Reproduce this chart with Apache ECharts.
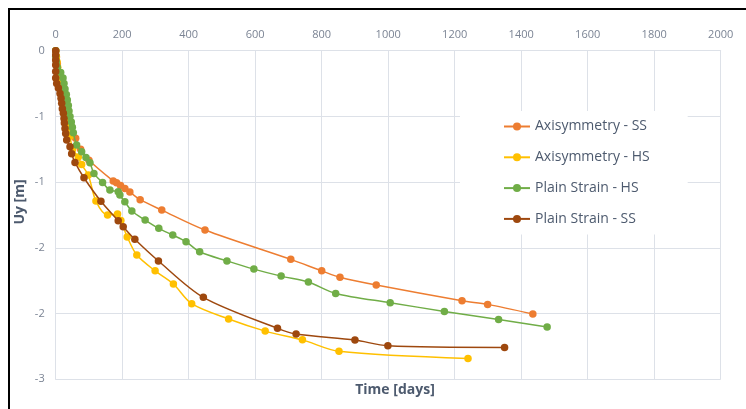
<!DOCTYPE html>
<html><head><meta charset="utf-8">
<script src="https://cdn.jsdelivr.net/npm/echarts@6/dist/echarts.min.js"></script>
<style>html,body{margin:0;padding:0;background:#fff}#c{width:746px;height:409px}</style>
</head><body><div id="c"></div>
<script>
const seriesNames = ['Axisymmetry - SS', 'Axisymmetry - HS', 'Plain Strain - HS', 'Plain Strain - SS'];
const xTicks = [0, 200, 400, 600, 800, 1000, 1200, 1400, 1600, 1800, 2000];
const yTicks = [0, -0.6, -1.2, -1.8, -2.4, -3];

const axSsDays = [0, 2, 5, 10, 15, 22, 30, 38, 48, 60, 75, 100, 173, 183, 195, 208, 223, 254, 319, 449, 707, 800, 855, 964, 1222, 1299, 1435];
const axSsUy   = [0, -0.06, -0.12, -0.2, -0.3, -0.4, -0.5, -0.6, -0.7, -0.8, -0.9, -1.0, -1.19, -1.205, -1.23, -1.257, -1.29, -1.36, -1.455, -1.637, -1.905, -2.01, -2.069, -2.14, -2.283, -2.316, -2.404];

const axHsDays = [0, 2, 4, 6, 10, 14, 18, 22, 26, 30, 34, 38, 43, 51, 68, 78, 98, 121, 156, 186, 196, 215, 244, 299, 354, 409, 520, 630, 742, 852, 1240];
const axHsUy   = [0, -0.05, -0.1, -0.15, -0.2, -0.27, -0.33, -0.4, -0.47, -0.55, -0.62, -0.7, -0.78, -0.9, -0.97, -1.04, -1.135, -1.373, -1.50, -1.49, -1.55, -1.70, -1.866, -2.01, -2.13, -2.31, -2.45, -2.56, -2.64, -2.745, -2.81];

const psHsDays = [0, 0, 2, 5, 15, 22, 25, 28, 32, 35, 38, 40, 43, 47, 50, 53, 63, 78, 91, 103, 115, 141, 163, 188, 193, 208, 229, 269, 310, 352, 392, 433, 515, 596, 678, 760, 842, 1006, 1169, 1332, 1478];
const psHsUy   = [0, -0.05, -0.1, -0.15, -0.2, -0.25, -0.3, -0.35, -0.4, -0.45, -0.5, -0.55, -0.6, -0.65, -0.7, -0.75, -0.861, -0.922, -0.974, -1.022, -1.12, -1.204, -1.272, -1.288, -1.318, -1.379, -1.464, -1.546, -1.622, -1.683, -1.744, -1.836, -1.919, -1.994, -2.058, -2.112, -2.216, -2.301, -2.38, -2.453, -2.523];

const psSsDays = [0, 0, 0, 0, 0, 0, 3, 8, 13, 16, 18, 20, 23, 25, 26, 28, 30, 33, 43, 48, 58, 85, 136, 188, 203, 238, 309, 444, 667, 723, 900, 999, 1350];
const psSsUy   = [0, -0.04, -0.085, -0.13, -0.19, -0.25, -0.3, -0.34, -0.39, -0.435, -0.48, -0.53, -0.57, -0.62, -0.66, -0.71, -0.755, -0.815, -0.877, -0.94, -1.02, -1.16, -1.375, -1.553, -1.607, -1.722, -1.92, -2.252, -2.535, -2.587, -2.642, -2.694, -2.709];

const colors = ['#ED7D31', '#FFC000', '#70AD47', '#9E480E'];
const allDays = [axSsDays, axHsDays, psHsDays, psSsDays];
const allUy = [axSsUy, axHsUy, psHsUy, psSsUy];

const zip = (a, b) => a.map((v, i) => [v, b[i]]);
const grid = '#dde1e8';
const font = '"Open Sans", "Noto Sans", sans-serif';

const chart = echarts.init(document.getElementById('c'), null, {renderer: 'canvas'});
chart.setOption({
  animation: false,
  backgroundColor: '#fff',
  grid: {left: 55.7, right: 25.3, top: 50.7, bottom: 29.7, containLabel: false},
  xAxis: {
    type: 'value', position: 'top', min: xTicks[0], max: xTicks[xTicks.length - 1], interval: 200,
    axisLine: {show: true, lineStyle: {color: grid, width: 1}},
    axisTick: {show: false},
    axisLabel: {color: '#7b8494', fontSize: 11, fontFamily: font, margin: 10, formatter: v => String(v)},
    splitLine: {show: true, lineStyle: {color: grid, width: 1}}
  },
  yAxis: {
    type: 'value', min: yTicks[yTicks.length - 1], max: yTicks[0], interval: 0.6,
    axisLine: {show: true, lineStyle: {color: grid, width: 1}},
    axisTick: {show: false},
    axisLabel: {color: '#7b8494', fontSize: 11, fontFamily: font, margin: 11,
      formatter: v => String(Math.round(v) === 0 ? 0 : Math.round(v))},
    splitLine: {show: true, lineStyle: {color: grid, width: 1}}
  },
  legend: {
    orient: 'vertical', left: 460, top: 111,
    backgroundColor: '#fff',
    padding: [7, 38, 7, 43],
    itemGap: 13.8, itemWidth: 26, itemHeight: 10,
    textStyle: {color: '#4d5a6e', fontSize: 14, fontFamily: font, lineHeight: 17},
    data: seriesNames
  },
  graphic: [
    {type: 'rect', shape: {x: 9, y: 9, width: 800, height: 460}, style: {fill: 'none', stroke: '#000', lineWidth: 2}, silent: true},
    {type: 'text', x: 395, y: 390, style: {text: 'Time [days]', fill: '#4d5a6e', font: 'bold 14px ' + font, textAlign: 'center', textVerticalAlign: 'middle'}},
    {type: 'text', x: 20, y: 202, rotation: Math.PI / 2, style: {text: 'Uy [m]', fill: '#4d5a6e', font: 'bold 14px ' + font, textAlign: 'center', textVerticalAlign: 'middle'}}
  ],
  series: seriesNames.map((n, i) => ({
    name: n, type: 'line', data: zip(allDays[i], allUy[i]),
    smooth: 0.3, symbol: 'circle', symbolSize: 7.5, showSymbol: true,
    lineStyle: {color: colors[i], width: 1.5},
    itemStyle: {color: colors[i]},
    z: 2 + i
  }))
});
</script></body></html>
